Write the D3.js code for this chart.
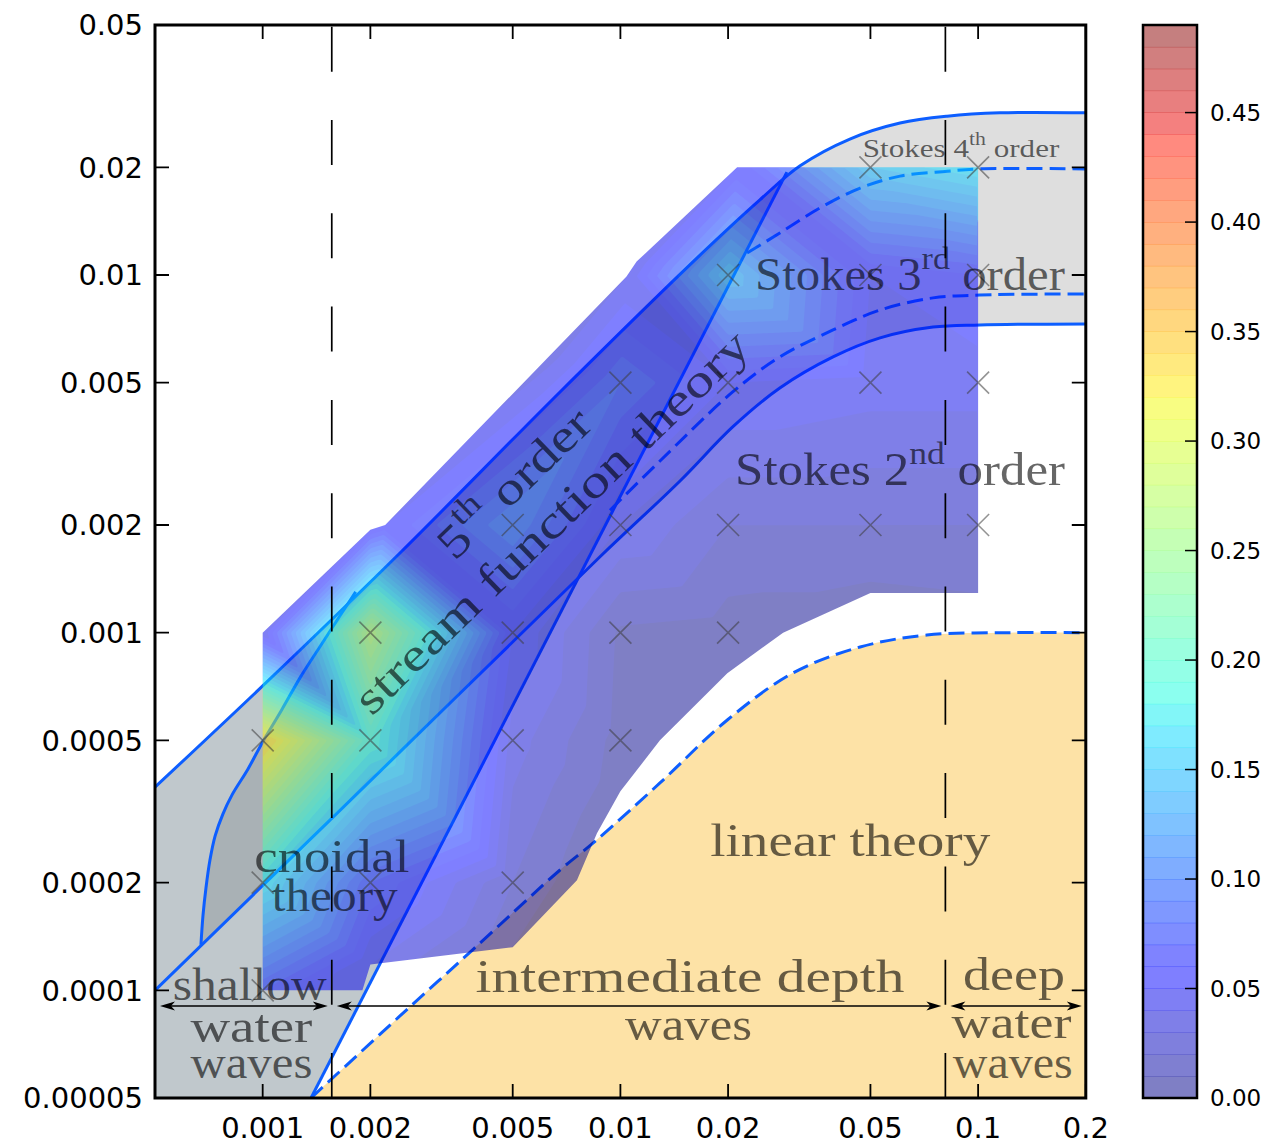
<!DOCTYPE html>
<html>
<head>
<meta charset="utf-8">
<title>Validity of wave theories</title>
<script src="https://cdn.jsdelivr.net/npm/d3@7"></script>
<style>
  body { margin: 0; background: #fff; }
  svg { display: block; }
</style>
</head>
<body>
<svg id="chart" width="1271" height="1146"></svg>
<script>
const LEFT = 155, RIGHT = 1085.8, TOP = 25, BOTTOM = 1098;
const CB_LEFT = 1143, CB_RIGHT = 1197;

// axis ticks
const xTicks = [0.001, 0.002, 0.005, 0.01, 0.02, 0.05, 0.1, 0.2];
const xTickLabels = ['0.001', '0.002', '0.005', '0.01', '0.02', '0.05', '0.1', '0.2'];
const yTicks = [0.00005, 0.0001, 0.0002, 0.0005, 0.001, 0.002, 0.005, 0.01, 0.02, 0.05];
const yTickLabels = ['0.00005', '0.0001', '0.0002', '0.0005', '0.001', '0.002', '0.005', '0.01', '0.02', '0.05'];
const cbarTicks = [0, 0.05, 0.1, 0.15, 0.2, 0.25, 0.3, 0.35, 0.4, 0.45];
const colorMax = 0.49;

// sampled points: [h/gT², H/gT², error]
const samples = [
  [0.001, 0.0001, 0.07], [0.001, 0.0002, 0.17], [0.001, 0.0005, 0.34],
  [0.002, 0.0002, 0.07], [0.002, 0.0005, 0.19], [0.002, 0.001, 0.27],
  [0.005, 0.0002, 0.02], [0.005, 0.0005, 0.035], [0.005, 0.001, 0.05], [0.005, 0.002, 0.10],
  [0.01, 0.0005, 0.006], [0.01, 0.001, 0.008], [0.01, 0.002, 0.04], [0.01, 0.005, 0.08],
  [0.02, 0.001, 0.005], [0.02, 0.002, 0.02], [0.02, 0.005, 0.05], [0.02, 0.01, 0.14],
  [0.05, 0.002, 0.02], [0.05, 0.005, 0.045], [0.05, 0.01, 0.05], [0.05, 0.02, 0.15],
  [0.1, 0.002, 0.02], [0.1, 0.005, 0.045], [0.1, 0.01, 0.06], [0.1, 0.02, 0.17]
];

// outline of the computed area, with the error along it
const outline = [
  [0.001, 0.001, 0.04], [0.002, 0.00194, 0.05], [0.0022, 0.002, 0.05],
  [0.0064, 0.006, 0.035], [0.0104, 0.0099, 0.04], [0.0111, 0.0109, 0.04],
  [0.0212, 0.02, 0.05], [0.1, 0.02, 0.17], [0.1, 0.00129, 0.01],
  [0.05, 0.00129, 0.008], [0.0285, 0.001, 0.004], [0.0199, 0.00077, 0.004],
  [0.0129, 0.0005, 0.004], [0.01, 0.00036, 0.004], [0.0086, 0.000275, 0.004],
  [0.00756, 0.000203, 0.005], [0.005, 0.000132, 0.01], [0.002, 0.000118, 0.04],
  [0.0019, 0.0001, 0.04], [0.001, 0.0001, 0.07]
];

// limit curves: [h/gT², H/gT²]
const breakingLimit = [
  [0.0005, 0.00037], [0.001, 0.00071], [0.00242, 0.00167], [0.00678, 0.00471],
  [0.0167, 0.01137], [0.0245, 0.0162], [0.0318, 0.0202], [0.0438, 0.024],
  [0.0605, 0.0266], [0.0819, 0.0278], [0.115, 0.0284], [0.2, 0.0284]
];
const ursellLimit = [[0.001365, 0.00005], [0.0292, 0.0194]];
const cnoidalLimit = [
  [0.000672, 0.000134], [0.000681, 0.000162], [0.000694, 0.000193], [0.000712, 0.000231],
  [0.000736, 0.00027], [0.000774, 0.000311], [0.000821, 0.000352], [0.00091, 0.000416],
  [0.001, 0.000495], [0.00113, 0.000608], [0.00128, 0.000756], [0.00145, 0.000918],
  [0.00164, 0.00111], [0.00182, 0.0013]
];
const stokes2Limit = [
  [0.0005, 0.0001], [0.00242, 0.000464], [0.00877, 0.00163], [0.0147, 0.00266],
  [0.0206, 0.00376], [0.0279, 0.00483], [0.0393, 0.0059], [0.0532, 0.00667],
  [0.0748, 0.00715], [0.101, 0.00725], [0.2, 0.0073]
];
const stokes3Limit = [
  [0.00935, 0.0022], [0.0129, 0.00302], [0.0206, 0.00471], [0.0279, 0.0059],
  [0.0393, 0.00702], [0.0532, 0.00798], [0.0748, 0.00863], [0.101, 0.00879], [0.2, 0.00885]
];
const stokes4Limit = [
  [0.0226, 0.01152], [0.0279, 0.0131], [0.0361, 0.01539], [0.0468, 0.0175],
  [0.0605, 0.0189], [0.0819, 0.0195], [0.101, 0.0198], [0.2, 0.0198]
];
const linearLimit = [
  [0.001365, 0.00005], [0.00242, 0.0000848], [0.00387, 0.00013], [0.00678, 0.000217],
  [0.00838, 0.000258], [0.0129, 0.00038], [0.0199, 0.00057], [0.0304, 0.000772],
  [0.0468, 0.000912], [0.0719, 0.000985], [0.123, 0.001], [0.2, 0.001]
];
const shallowLimit = 0.00156;
const deepLimit = 0.081;

// text labels, placed in data coordinates (width = drawn width in px)
const annotations = [
  { h: 0.00156, H: 0.000214, width: 155, parts: [['cnoidal']] },
  { h: 0.00159, H: 0.000167, width: 126, parts: [['theory']] },
  { h: 0.0439, H: 0.000238, width: 280, parts: [['linear theory']] },
  { h: 0.00092, H: 0.000094, width: 155, parts: [['shallow']] },
  { h: 0.00093, H: 0.0000717, width: 122, parts: [['water']] },
  { h: 0.00093, H: 0.0000569, width: 122, parts: [['waves']] },
  { h: 0.01565, H: 0.000099, width: 429, parts: [['intermediate depth']] },
  { h: 0.0155, H: 0.0000727, width: 127, parts: [['waves']] },
  { h: 0.126, H: 0.0001, width: 102, parts: [['deep']] },
  { h: 0.124, H: 0.0000736, width: 120, parts: [['water']] },
  { h: 0.125, H: 0.0000569, width: 120, parts: [['waves']] },
  { h: 0.0645, H: 0.00908, width: 310, parts: [['Stokes 3'], ['rd', 'sup'], [' order']] },
  { h: 0.0605, H: 0.00259, width: 330, parts: [['Stokes 2'], ['nd', 'sup'], [' order']] },
  { h: 0.0896, H: 0.0214, width: 197, size: 26, parts: [['Stokes 4'], ['th', 'sup'], [' order']] },
  { h: 0.00687, H: 0.0019, width: 530, angle: -44, parts: [['stream function theory']] },
  { h: 0.00687, H: 0.0019, width: 195, angle: -44, dy: -54, parts: [['5'], ['th', 'sup'], [' order']] }
];

const x = d3.scaleLog().domain([0.0005, 0.2]).range([LEFT, RIGHT]);
const y = d3.scaleLog().domain([0.00005, 0.05]).range([BOTTOM, TOP]);
const cbar = d3.scaleLinear().domain([0, colorMax]).range([BOTTOM, TOP]);

function jet(t) {
  t = Math.max(0, Math.min(1, t));
  const seg = pts => {
    for (let i = 1; i < pts.length; i++) {
      if (t <= pts[i][0]) {
        const [t0, v0] = pts[i - 1], [t1, v1] = pts[i];
        return v0 + (v1 - v0) * (t - t0) / (t1 - t0);
      }
    }
    return pts[pts.length - 1][1];
  };
  const r = seg([[0, 0], [0.35, 0], [0.66, 1], [0.89, 1], [1, 0.5]]);
  const g = seg([[0, 0], [0.125, 0], [0.375, 1], [0.64, 1], [0.91, 0], [1, 0]]);
  const b = seg([[0, 0.5], [0.11, 1], [0.34, 1], [0.65, 0], [1, 0]]);
  return d3.rgb(r * 255, g * 255, b * 255).formatHex();
}

const svg = d3.select('#chart');
const defs = svg.append('defs');
const lineGen = d3.line().x(d => x(d[0])).y(d => y(d[1])).curve(d3.curveCatmullRom.alpha(0.5));
const R = RIGHT + 1;

defs.append('clipPath').attr('id', 'plotClip')
  .append('rect').attr('x', LEFT).attr('y', TOP).attr('width', RIGHT - LEFT).attr('height', BOTTOM - TOP);
defs.append('clipPath').attr('id', 'belowBreak')
  .append('path').attr('d', lineGen(breakingLimit) + `L${R},${BOTTOM}L${LEFT},${BOTTOM}Z`);
defs.append('clipPath').attr('id', 'aboveC')
  .append('path').attr('d', lineGen(stokes2Limit) + `L${R},${TOP}L${LEFT},${TOP}Z`);
const u0 = [x(ursellLimit[0][0]), y(ursellLimit[0][1])];
const u1 = [x(ursellLimit[1][0]), y(ursellLimit[1][1])];
defs.append('clipPath').attr('id', 'leftOfSteep')
  .append('path').attr('d', `M${LEFT},${BOTTOM}L${u0[0]},${BOTTOM}L${u1[0]},${u1[1]}L${u1[0]},${TOP}L${LEFT},${TOP}Z`);
defs.append('clipPath').attr('id', 'rightOfSteep')
  .append('path').attr('d', `M${R},${BOTTOM}L${u0[0]},${BOTTOM}L${u1[0]},${u1[1]}L${u1[0]},${TOP}L${R},${TOP}Z`);
const f0 = [x(cnoidalLimit[0][0]), y(cnoidalLimit[0][1])];
const fN = [x(cnoidalLimit[cnoidalLimit.length - 1][0]), y(cnoidalLimit[cnoidalLimit.length - 1][1])];
defs.append('clipPath').attr('id', 'rightOfF')
  .append('path').attr('d', `M${f0[0]},${BOTTOM}L` + lineGen(cnoidalLimit).slice(1) + `L${fN[0]},${TOP}L${R},${TOP}L${R},${BOTTOM}Z`);
const outlinePx = outline.map(d => [x(d[0]), y(d[1])]);
defs.append('clipPath').attr('id', 'regionClip')
  .append('path').attr('d', 'M' + outlinePx.map(p => p.join(',')).join('L') + 'Z');

const plot = svg.append('g').attr('clip-path', 'url(#plotClip)');
const fullRect = sel => sel.attr('x', LEFT).attr('y', TOP).attr('width', R - LEFT).attr('height', BOTTOM - TOP);

// linear theory area
plot.append('path')
  .attr('d', lineGen(linearLimit) + `L${R},${BOTTOM}L${x(linearLimit[0][0])},${BOTTOM}Z`)
  .attr('fill', '#fde2a6');

// shallow water area, below breaking and left of the Ursell line
plot.append('g').attr('clip-path', 'url(#belowBreak)')
  .append('rect').attr('clip-path', 'url(#leftOfSteep)')
  .call(fullRect)
  .attr('fill', '#c0c8cc');

// Stokes higher order area
plot.append('g').attr('clip-path', 'url(#belowBreak)')
  .append('g').attr('clip-path', 'url(#aboveC)')
  .append('rect').attr('clip-path', 'url(#rightOfSteep)')
  .call(fullRect)
  .attr('fill', '#dedede');

// cnoidal area
plot.append('g').attr('clip-path', 'url(#belowBreak)')
  .append('g').attr('clip-path', 'url(#aboveC)')
  .append('g').attr('clip-path', 'url(#leftOfSteep)')
  .append('rect').attr('clip-path', 'url(#rightOfF)')
  .call(fullRect)
  .attr('fill', '#a9b1b5');

// limit curves
const curves = [
  { pts: breakingLimit }, { pts: ursellLimit }, { pts: cnoidalLimit }, { pts: stokes2Limit },
  { pts: stokes3Limit, dash: '16,7' }, { pts: stokes4Limit, dash: '16,7' }, { pts: linearLimit, dash: '16,7' }
];
plot.selectAll('path.limit')
  .data(curves)
  .enter()
  .append('path')
  .attr('class', 'limit')
  .attr('d', d => lineGen(d.pts))
  .attr('fill', 'none')
  .attr('stroke', '#0d5eff')
  .attr('stroke-width', 3)
  .attr('stroke-dasharray', d => d.dash || null);

// error field: linear interpolation on a triangulation, then filled contours
const isDup = d => samples.some(s => s[0] === d[0] && s[1] === d[1]);
const allPts = samples.concat(outline.filter(d => !isDup(d)));
const pts = allPts.map(d => [x(d[0]), y(d[1])]);
const vals = allPts.map(d => d[2]);
const del = d3.Delaunay.from(pts);
const step = 2;
const gx0 = Math.floor(d3.min(outlinePx, p => p[0])) - 4;
const gy0 = Math.floor(d3.min(outlinePx, p => p[1])) - 4;
const nx = Math.ceil((d3.max(outlinePx, p => p[0]) + 4 - gx0) / step);
const ny = Math.ceil((d3.max(outlinePx, p => p[1]) + 4 - gy0) / step);
const grid = new Float64Array(nx * ny).fill(NaN);
const tri = del.triangles;
for (let k = 0; k < tri.length; k += 3) {
  const a = tri[k], b = tri[k + 1], c = tri[k + 2];
  const [ax, ay] = pts[a], [bx, by] = pts[b], [cx, cy] = pts[c];
  const det = (by - cy) * (ax - cx) + (cx - bx) * (ay - cy);
  if (Math.abs(det) < 1e-9) continue;
  const i0 = Math.max(0, Math.floor((Math.min(ax, bx, cx) - gx0) / step) - 1);
  const i1 = Math.min(nx - 1, Math.ceil((Math.max(ax, bx, cx) - gx0) / step) + 1);
  const j0 = Math.max(0, Math.floor((Math.min(ay, by, cy) - gy0) / step) - 1);
  const j1 = Math.min(ny - 1, Math.ceil((Math.max(ay, by, cy) - gy0) / step) + 1);
  for (let j = j0; j <= j1; j++) {
    const py = gy0 + (j + 0.5) * step;
    for (let i = i0; i <= i1; i++) {
      const px = gx0 + (i + 0.5) * step;
      const l1 = ((by - cy) * (px - cx) + (cx - bx) * (py - cy)) / det;
      const l2 = ((cy - ay) * (px - cx) + (ax - cx) * (py - cy)) / det;
      const l3 = 1 - l1 - l2;
      if (l1 >= -1e-9 && l2 >= -1e-9 && l3 >= -1e-9) {
        grid[j * nx + i] = l1 * vals[a] + l2 * vals[b] + l3 * vals[c];
      }
    }
  }
}
for (let j = 0; j < ny; j++) {
  for (let i = 0; i < nx; i++) {
    if (isNaN(grid[j * nx + i])) {
      grid[j * nx + i] = vals[del.find(gx0 + (i + 0.5) * step, gy0 + (j + 0.5) * step)];
    }
  }
}
const levels = d3.range(0, 49).map(i => i * 0.01);
const bands = d3.contours().size([nx, ny]).thresholds(levels)(grid);
plot.append('g')
  .attr('clip-path', 'url(#regionClip)')
  .attr('opacity', 0.5)
  .append('g')
  .attr('transform', `translate(${gx0},${gy0}) scale(${step})`)
  .selectAll('path')
  .data(bands)
  .enter()
  .append('path')
  .attr('d', d3.geoPath())
  .attr('fill', d => jet((d.value + 0.005) / colorMax));

// shallow / deep water limits
plot.selectAll('line.limitV')
  .data([shallowLimit, deepLimit])
  .enter()
  .append('line')
  .attr('class', 'limitV')
  .attr('x1', d => x(d)).attr('x2', d => x(d))
  .attr('y1', BOTTOM).attr('y2', TOP)
  .attr('stroke', '#000')
  .attr('stroke-width', 1.7)
  .attr('stroke-dasharray', '45,48.3');

// sample markers
plot.selectAll('path.marker')
  .data(samples)
  .enter()
  .append('path')
  .attr('class', 'marker')
  .attr('transform', d => `translate(${x(d[0])},${y(d[1])})`)
  .attr('d', 'M-11,-11L11,11M-11,11L11,-11')
  .attr('stroke', '#3c3c3c')
  .attr('stroke-opacity', 0.55)
  .attr('stroke-width', 1.6);

// labels
const labelG = svg.append('g')
  .attr('font-family', '"Liberation Serif", "Times New Roman", serif')
  .attr('fill', '#000')
  .attr('fill-opacity', 0.6);
annotations.forEach(a => {
  const size = a.size || 46;
  const g = labelG.append('g');
  const t = g.append('text')
    .attr('y', a.dy || 0)
    .attr('text-anchor', 'middle')
    .attr('font-size', size);
  let raised = false;
  a.parts.forEach(p => {
    const sp = t.append('tspan').text(p[0]);
    if (p[1] === 'sup') {
      sp.attr('font-size', size * 0.7).attr('dy', -size * 0.45);
      raised = true;
    } else if (raised) {
      sp.attr('dy', size * 0.45);
      raised = false;
    }
  });
  const sx = a.width / t.node().getBBox().width;
  g.attr('transform', `translate(${x(a.h)},${y(a.H)}) rotate(${a.angle || 0}) scale(${sx},1)`);
});

// double arrows for depth classes
const arrowY = y(0.0000904);
const arrows = [[0.0005, shallowLimit], [shallowLimit, deepLimit], [deepLimit, 0.2]];
const arrowG = svg.append('g');
arrows.forEach(([a, b]) => {
  const xa = x(a) + 5, xb = x(b) - 4;
  arrowG.append('line').attr('x1', xa + 6).attr('x2', xb - 6).attr('y1', arrowY).attr('y2', arrowY)
    .attr('stroke', '#000').attr('stroke-width', 1.6);
  arrowG.append('path')
    .attr('d', `M${xa},${arrowY}L${xa + 15},${arrowY - 4.5}L${xa + 11},${arrowY}L${xa + 15},${arrowY + 4.5}Z`
      + `M${xb},${arrowY}L${xb - 15},${arrowY - 4.5}L${xb - 11},${arrowY}L${xb - 15},${arrowY + 4.5}Z`)
    .attr('fill', '#000');
});

// frame, ticks, tick labels
const axisG = svg.append('g').attr('font-family', '"DejaVu Sans", sans-serif').attr('font-size', 29);
axisG.selectAll('path.xt')
  .data(xTicks)
  .enter()
  .append('path')
  .attr('d', d => `M${x(d)},${BOTTOM}V${BOTTOM - 14}M${x(d)},${TOP}V${TOP + 14}`)
  .attr('stroke', '#000').attr('stroke-width', 1.8);
axisG.selectAll('path.yt')
  .data(yTicks)
  .enter()
  .append('path')
  .attr('d', d => `M${LEFT},${y(d)}H${LEFT + 14}M${RIGHT},${y(d)}H${RIGHT - 14}`)
  .attr('stroke', '#000').attr('stroke-width', 1.8);
axisG.selectAll('text.xl')
  .data(xTicks)
  .enter()
  .append('text')
  .attr('x', d => x(d))
  .attr('y', 1138)
  .attr('text-anchor', 'middle')
  .text((d, i) => xTickLabels[i]);
axisG.selectAll('text.yl')
  .data(yTicks)
  .enter()
  .append('text')
  .attr('x', LEFT - 12)
  .attr('y', d => y(d))
  .attr('dy', '0.36em')
  .attr('text-anchor', 'end')
  .text((d, i) => yTickLabels[i]);
axisG.append('rect')
  .attr('x', LEFT).attr('y', TOP).attr('width', RIGHT - LEFT).attr('height', BOTTOM - TOP)
  .attr('fill', 'none').attr('stroke', '#000').attr('stroke-width', 3);

// colorbar
const cbG = svg.append('g');
cbG.selectAll('rect.band')
  .data(levels)
  .enter()
  .append('rect')
  .attr('x', CB_LEFT)
  .attr('width', CB_RIGHT - CB_LEFT)
  .attr('y', d => cbar(d + 0.01))
  .attr('height', d => cbar(d) - cbar(d + 0.01) + 0.4)
  .attr('fill', d => jet((d + 0.005) / colorMax))
  .attr('fill-opacity', 0.5);
cbG.append('rect')
  .attr('x', CB_LEFT).attr('y', TOP).attr('width', CB_RIGHT - CB_LEFT).attr('height', BOTTOM - TOP)
  .attr('fill', 'none').attr('stroke', '#000').attr('stroke-width', 2.5);
cbG.selectAll('path.cbt')
  .data(cbarTicks)
  .enter()
  .append('path')
  .attr('d', d => `M${CB_RIGHT},${cbar(d)}H${CB_RIGHT - 12}`)
  .attr('stroke', '#000').attr('stroke-width', 1.5);
cbG.selectAll('text')
  .data(cbarTicks)
  .enter()
  .append('text')
  .attr('x', 1210)
  .attr('y', d => cbar(d))
  .attr('dy', '0.36em')
  .attr('font-family', '"DejaVu Sans", sans-serif')
  .attr('font-size', 23)
  .text(d => d3.format('.2f')(d));
</script>
</body>
</html>
